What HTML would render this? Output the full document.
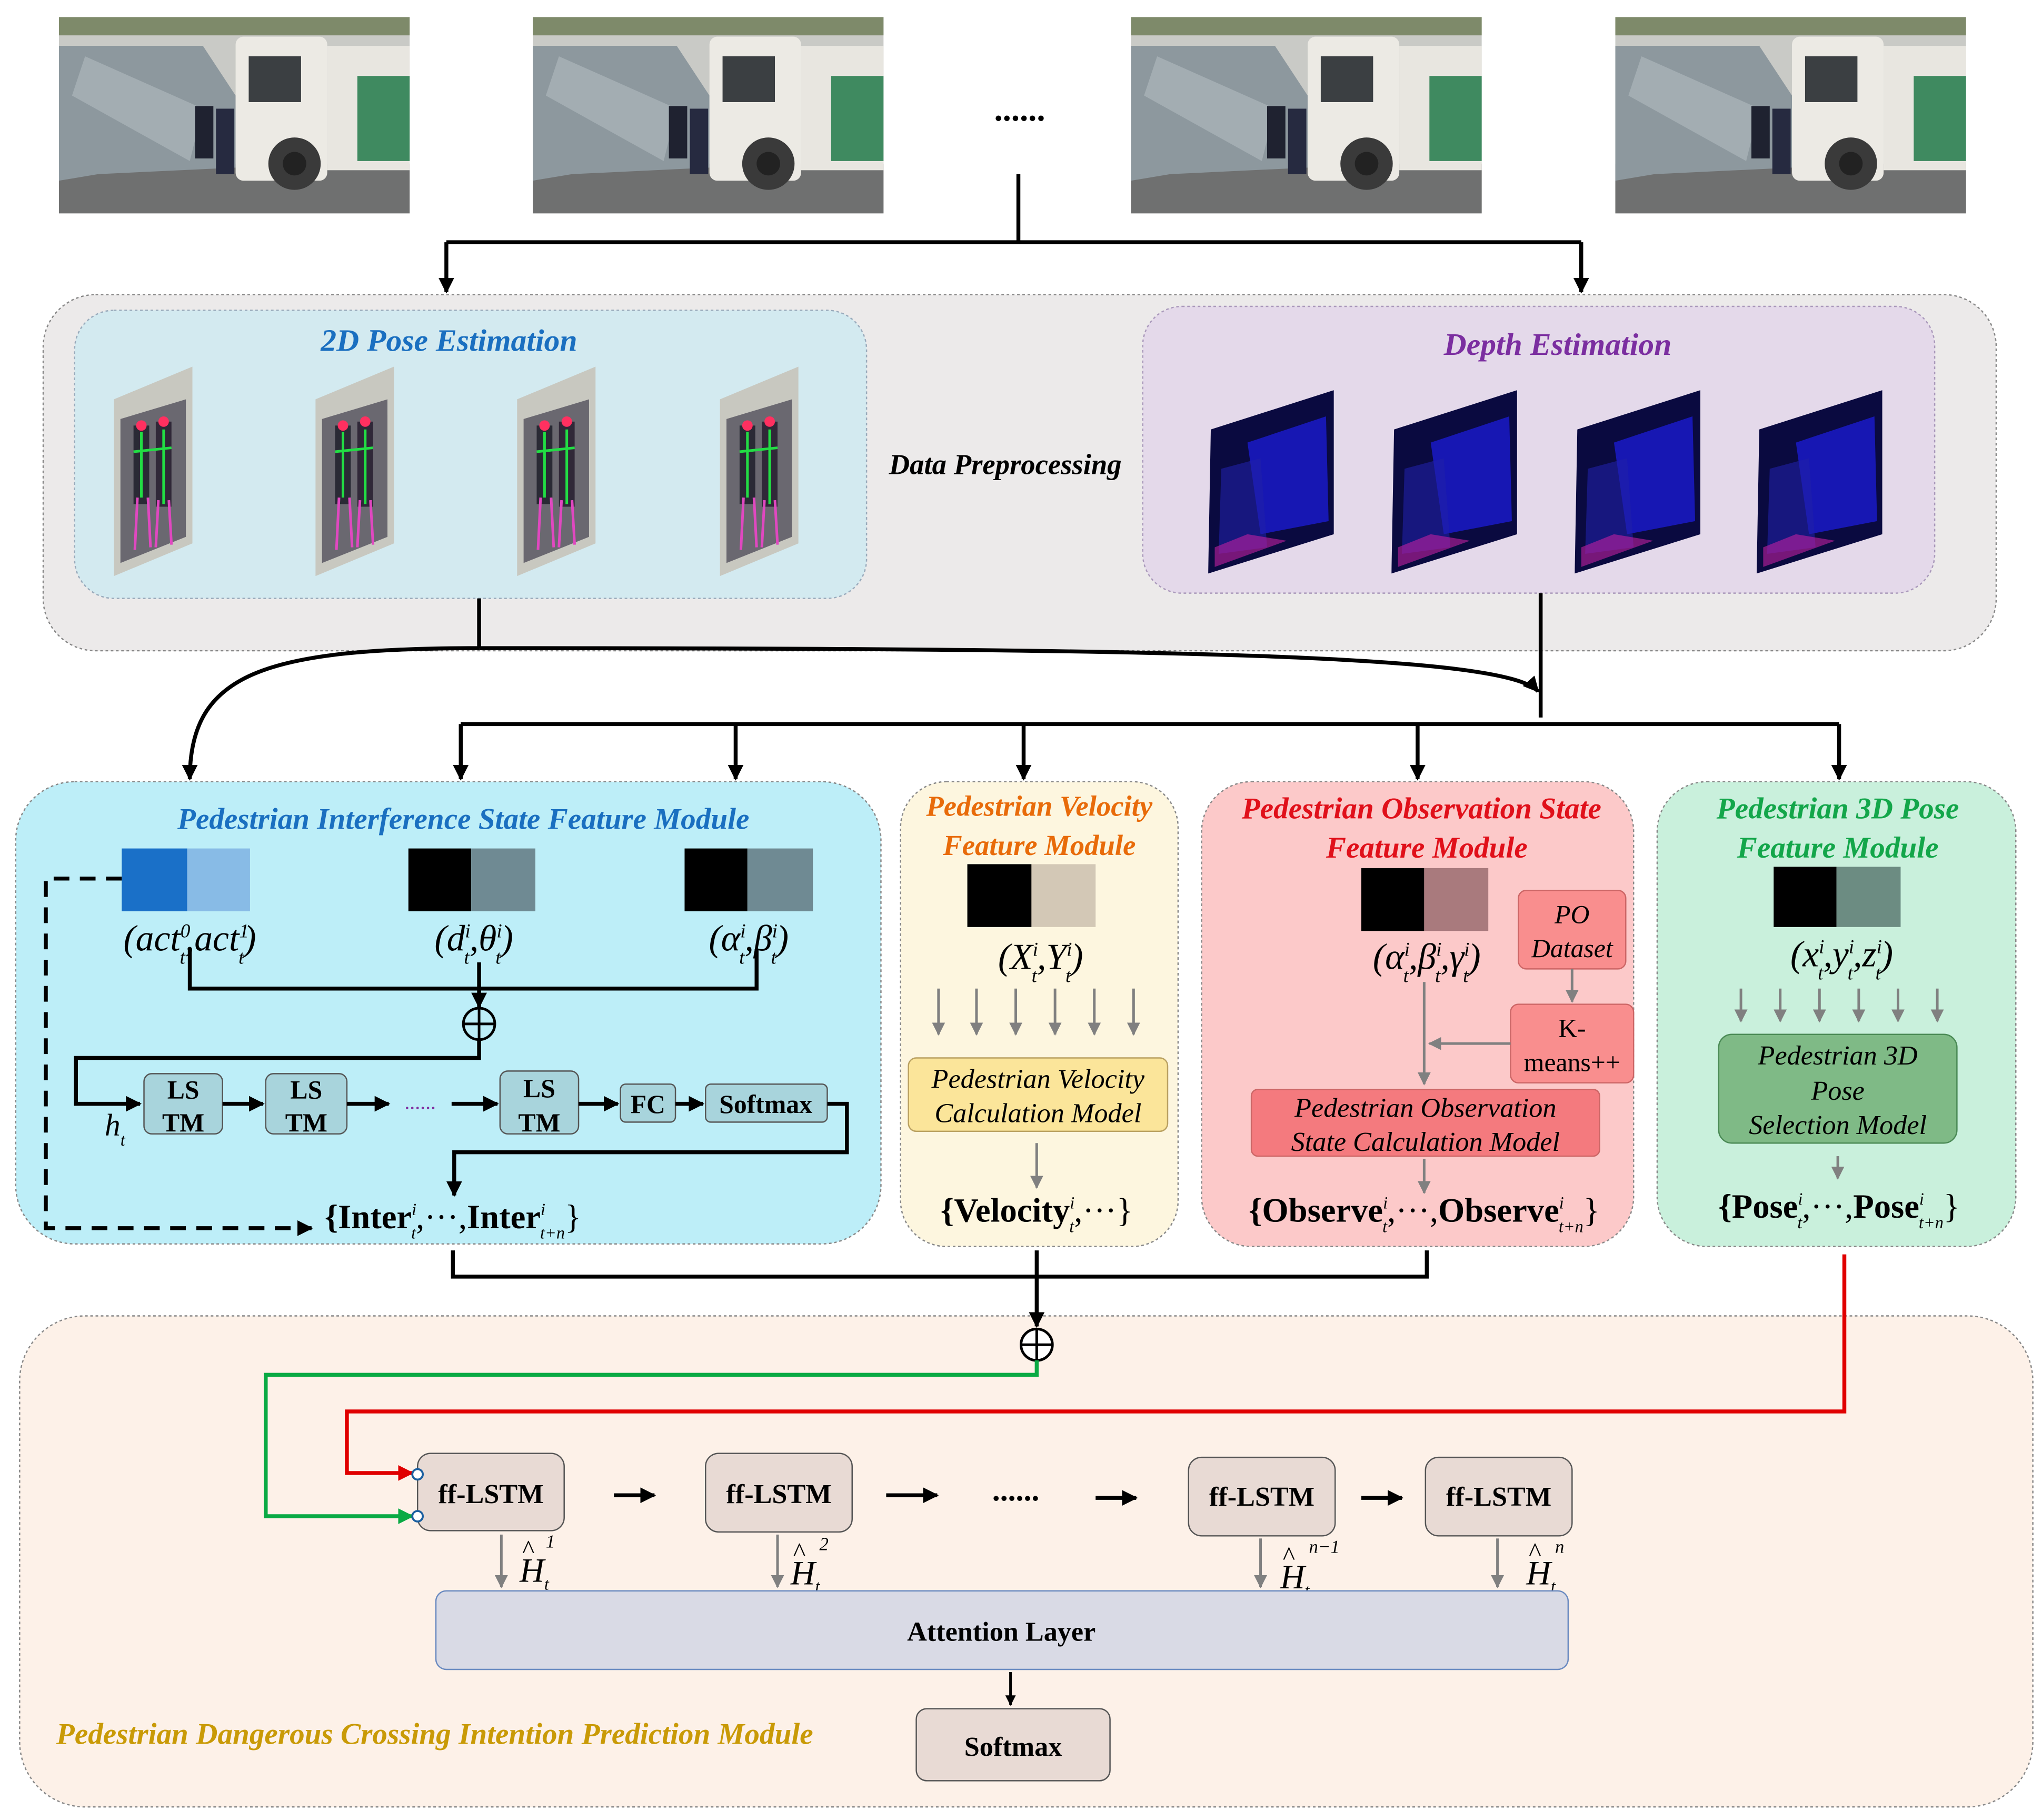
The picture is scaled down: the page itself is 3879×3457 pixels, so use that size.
<!DOCTYPE html>
<html><head><meta charset="utf-8"><style>
html,body{margin:0;padding:0;background:#fff;}
svg{display:block;}
text{font-family:"Liberation Serif",serif;}
.t{font-weight:bold;font-style:italic;}
.m{font-style:italic;}
</style></head><body>
<svg width="3879" height="3457" viewBox="0 0 1560 1390" preserveAspectRatio="none" xmlns="http://www.w3.org/2000/svg">
<defs>
<marker id="a" viewBox="0 0 10 10" refX="9" refY="5" markerWidth="4" markerHeight="4" orient="auto"><path d="M0,0L10,5L0,10z" fill="#000"/></marker>
<marker id="ag" viewBox="0 0 10 10" refX="9" refY="5" markerWidth="5" markerHeight="5" orient="auto"><path d="M0,0L10,5L0,10z" fill="#808080"/></marker>
<marker id="agr" viewBox="0 0 10 10" refX="9" refY="5" markerWidth="4" markerHeight="4" orient="auto"><path d="M0,0L10,5L0,10z" fill="#0aaa44"/></marker>
<marker id="ar" viewBox="0 0 10 10" refX="9" refY="5" markerWidth="4" markerHeight="4" orient="auto"><path d="M0,0L10,5L0,10z" fill="#e00000"/></marker>
<symbol id="ph" viewBox="0 0 268 150">
<rect width="268" height="150" fill="#c9cac6"/>
<rect x="0" y="0" width="268" height="14" fill="#7e8a6a"/>
<rect x="0" y="112" width="268" height="38" fill="#6f7070"/>
<path d="M0,22L110,22L135,60L135,115L30,120L0,125z" fill="#8d989e"/>
<path d="M20,30L110,70L100,110L10,60z" fill="#a3adb2"/>
<rect x="135" y="15" width="70" height="110" rx="6" fill="#eceae4"/>
<rect x="145" y="30" width="40" height="35" fill="#3b3f42"/>
<rect x="205" y="22" width="63" height="95" fill="#e8e6e0"/>
<rect x="228" y="45" width="40" height="65" fill="#3f8a60"/>
<circle cx="180" cy="112" r="20" fill="#3a3a3a"/>
<circle cx="180" cy="112" r="9" fill="#222"/>
<rect x="104" y="68" width="14" height="40" fill="#1f2230"/>
<rect x="120" y="70" width="14" height="50" fill="#262a40"/>
</symbol>
<symbol id="pose" viewBox="0 0 60 160">
<path d="M0,25L60,0L60,135L0,160z" fill="#c8c8c0"/>
<path d="M5,40L55,25L55,130L5,150z" fill="#6a6870"/>
<rect x="15" y="45" width="12" height="60" fill="#2a2a35"/>
<rect x="32" y="42" width="12" height="65" fill="#302838"/>
<path d="M21,50L21,100M38,48L38,105M15,65L44,62" stroke="#22dd44" stroke-width="2"/>
<path d="M18,100L16,140M26,100L28,138M34,102L32,138M42,102L44,136" stroke="#e048c0" stroke-width="2"/>
<circle cx="21" cy="45" r="4" fill="#ff3060"/><circle cx="38" cy="42" r="4" fill="#ff3060"/>
</symbol>
<symbol id="dep" viewBox="0 0 96 140">
<path d="M2,30L96,0L96,110L0,140z" fill="#0a0a40"/>
<path d="M30,40L90,20L92,100L40,110z" fill="#1a1ad0" opacity="0.8"/>
<path d="M10,60L40,52L45,120L8,125z" fill="#2020a8" opacity="0.6"/>
<path d="M5,120L30,110L60,115L5,135z" fill="#c020a0" opacity="0.6"/>
</symbol>
</defs>

<use href="#ph" x="45" y="13" width="268" height="150"/>
<use href="#ph" x="407" y="13" width="268" height="150"/>
<use href="#ph" x="864" y="13" width="268" height="150"/>
<use href="#ph" x="1234" y="13" width="268" height="150"/>
<text x="779" y="92" font-size="26" text-anchor="middle" font-weight="bold">......</text>
<path d="M778,133V185M341,185H1208" stroke="#000" stroke-width="3" fill="none"/>
<path d="M341,185V223" stroke="#000" stroke-width="3" marker-end="url(#a)"/>
<path d="M1208,185V223" stroke="#000" stroke-width="3" marker-end="url(#a)"/>

<rect x="33" y="225" width="1492" height="272" rx="40" fill="#eceaea" stroke="#888" stroke-dasharray="2 2"/>
<rect x="57" y="237" width="605" height="220" rx="30" fill="#d3eaf0" stroke="#9ab" stroke-dasharray="2 2"/>
<text x="343" y="268" font-size="24" class="t" fill="#1a6fc0" text-anchor="middle">2D Pose Estimation</text>
<use href="#pose" x="87" y="280" width="60" height="160"/>
<use href="#pose" x="241" y="280" width="60" height="160"/>
<use href="#pose" x="395" y="280" width="60" height="160"/>
<use href="#pose" x="550" y="280" width="60" height="160"/>
<text x="768" y="362" font-size="22" class="t" text-anchor="middle">Data Preprocessing</text>
<rect x="873" y="234" width="605" height="219" rx="30" fill="#e4d9ea" stroke="#a9b" stroke-dasharray="2 2"/>
<text x="1190" y="271" font-size="24" class="t" fill="#7b2ea0" text-anchor="middle">Depth Estimation</text>
<use href="#dep" x="923" y="298" width="96" height="140"/>
<use href="#dep" x="1063" y="298" width="96" height="140"/>
<use href="#dep" x="1203" y="298" width="96" height="140"/>
<use href="#dep" x="1342" y="298" width="96" height="140"/>

<path d="M366,457V495" stroke="#000" stroke-width="3" fill="none"/>
<path d="M366,495C200,495 145,515 145,595" stroke="#000" stroke-width="3" fill="none" marker-end="url(#a)"/>
<path d="M366,495C900,495 1150,500 1175,528" stroke="#000" stroke-width="3" fill="none" marker-end="url(#a)"/>
<path d="M1177,453V548M352,553H1405" stroke="#000" stroke-width="3" fill="none"/>
<g stroke="#000" stroke-width="3" marker-end="url(#a)">
<path d="M352,553V595"/><path d="M562,553V595"/><path d="M782,553V595"/><path d="M1083,553V595"/><path d="M1405,553V595"/></g>

<rect x="12" y="597" width="661" height="353" rx="45" fill="#bdeef8" stroke="#888" stroke-dasharray="2 2"/>
<text x="354" y="633" font-size="23" class="t" fill="#1a6fc0" text-anchor="middle">Pedestrian Interference State Feature Module</text>
<rect x="93" y="648" width="50" height="48" fill="#1a70c8"/><rect x="143" y="648" width="48" height="48" fill="#88bbe6"/>
<rect x="312" y="648" width="48" height="48" fill="#000"/><rect x="360" y="648" width="49" height="48" fill="#6f8a93"/>
<rect x="523" y="648" width="48" height="48" fill="#000"/><rect x="571" y="648" width="50" height="48" fill="#6f8a93"/>
<text x="145" y="726" font-size="28" class="m" text-anchor="middle">(act<tspan font-size="15" dy="-10">0</tspan><tspan font-size="15" dx="-8" dy="20">t</tspan><tspan dy="-10">,act</tspan><tspan font-size="15" dy="-10">1</tspan><tspan font-size="15" dx="-8" dy="20">t</tspan><tspan dy="-10">)</tspan></text>
<text x="362" y="726" font-size="28" class="m" text-anchor="middle">(d<tspan font-size="15" dy="-10">i</tspan><tspan font-size="15" dx="-5" dy="20">t</tspan><tspan dy="-10">,θ</tspan><tspan font-size="15" dy="-10">i</tspan><tspan font-size="15" dx="-5" dy="20">t</tspan><tspan dy="-10">)</tspan></text>
<text x="572" y="726" font-size="28" class="m" text-anchor="middle">(α<tspan font-size="15" dy="-10">i</tspan><tspan font-size="15" dx="-5" dy="20">t</tspan><tspan dy="-10">,β</tspan><tspan font-size="15" dy="-10">i</tspan><tspan font-size="15" dx="-5" dy="20">t</tspan><tspan dy="-10">)</tspan></text>
<path d="M145,725V755H578V725" stroke="#000" stroke-width="3" fill="none"/>
<path d="M366,735V769" stroke="#000" stroke-width="3" marker-end="url(#a)"/>
<circle cx="366" cy="782" r="12" fill="none" stroke="#000" stroke-width="2"/><path d="M354,782H378M366,770V794" stroke="#000" stroke-width="2"/>
<path d="M366,794V808H58V843H107" stroke="#000" stroke-width="3" fill="none" marker-end="url(#a)"/>
<text x="80" y="867" font-size="24" class="m">h<tspan font-size="13" dy="8">t</tspan></text>
<g fill="#a8d4dc" stroke="#555" stroke-width="1">
<rect x="110" y="820" width="60" height="46" rx="6"/><rect x="203" y="820" width="62" height="46" rx="6"/><rect x="382" y="818" width="60" height="48" rx="6"/>
<rect x="474" y="828" width="42" height="29" rx="4"/><rect x="539" y="828" width="93" height="29" rx="4"/></g>
<g font-size="20" font-weight="bold" text-anchor="middle">
<text x="140" y="839">LS</text><text x="140" y="864">TM</text>
<text x="234" y="839">LS</text><text x="234" y="864">TM</text>
<text x="412" y="838">LS</text><text x="412" y="864">TM</text>
<text x="495" y="850">FC</text><text x="585" y="850">Softmax</text></g>
<g stroke="#000" stroke-width="3" marker-end="url(#a)"><path d="M170,843H201"/><path d="M265,843H297"/><path d="M345,843H380"/><path d="M442,843H472"/><path d="M516,843H537"/></g>
<text x="321" y="847" font-size="16" fill="#8030a0" text-anchor="middle">......</text>
<path d="M632,843H647V880H347V913" stroke="#000" stroke-width="3" fill="none" marker-end="url(#a)"/>
<path d="M93,671H35V938H238" stroke="#000" stroke-width="3" fill="none" stroke-dasharray="12 8" marker-end="url(#a)"/>
<text x="346" y="938" font-size="26" font-weight="bold" text-anchor="middle">{Inter<tspan font-size="13" font-weight="normal" class="m" dy="-10">i</tspan><tspan font-size="13" font-weight="normal" class="m" dx="-4" dy="18">t</tspan><tspan dy="-8" font-weight="normal">,···,</tspan>Inter<tspan font-size="13" font-weight="normal" class="m" dy="-10">i</tspan><tspan font-size="13" font-weight="normal" class="m" dx="-4" dy="18">t+n</tspan><tspan dy="-8" font-weight="normal">}</tspan></text>

<rect x="688" y="597" width="212" height="355" rx="35" fill="#fdf6df" stroke="#888" stroke-dasharray="2 2"/>
<text x="794" y="623" font-size="22" class="t" fill="#e86b0a" text-anchor="middle">Pedestrian Velocity</text>
<text x="794" y="653" font-size="22" class="t" fill="#e86b0a" text-anchor="middle">Feature Module</text>
<rect x="739" y="660" width="49" height="48" fill="#000"/><rect x="788" y="660" width="49" height="48" fill="#d3c8b6"/>
<text x="795" y="740" font-size="28" class="m" text-anchor="middle">(X<tspan font-size="15" dy="-10">i</tspan><tspan font-size="15" dx="-5" dy="20">t</tspan><tspan dy="-10">,Y</tspan><tspan font-size="15" dy="-10">i</tspan><tspan font-size="15" dx="-5" dy="20">t</tspan><tspan dy="-10">)</tspan></text>
<g stroke="#808080" stroke-width="2" marker-end="url(#ag)"><path d="M717,755V790"/><path d="M746,755V790"/><path d="M776,755V790"/><path d="M806,755V790"/><path d="M836,755V790"/><path d="M866,755V790"/></g>
<rect x="694" y="808" width="198" height="56" rx="6" fill="#fbe59a" stroke="#b9a060"/>
<text x="793" y="831" font-size="21" class="m" text-anchor="middle">Pedestrian Velocity</text>
<text x="793" y="857" font-size="21" class="m" text-anchor="middle">Calculation Model</text>
<path d="M792,873V907" stroke="#808080" stroke-width="2" marker-end="url(#ag)"/>
<text x="792" y="933" font-size="26" font-weight="bold" text-anchor="middle">{Velocity<tspan font-size="13" font-weight="normal" class="m" dy="-10">i</tspan><tspan font-size="13" font-weight="normal" class="m" dx="-4" dy="18">t</tspan><tspan dy="-8" font-weight="normal">,···}</tspan></text>

<rect x="918" y="597" width="330" height="355" rx="38" fill="#fcc9c9" stroke="#888" stroke-dasharray="2 2"/>
<text x="1086" y="625" font-size="23" class="t" fill="#e0101a" text-anchor="middle">Pedestrian Observation State</text>
<text x="1090" y="655" font-size="23" class="t" fill="#e0101a" text-anchor="middle">Feature Module</text>
<rect x="1040" y="663" width="48" height="48" fill="#000"/><rect x="1088" y="663" width="49" height="48" fill="#a97a7d"/>
<text x="1090" y="740" font-size="28" class="m" text-anchor="middle">(α<tspan font-size="15" dy="-10">i</tspan><tspan font-size="15" dx="-5" dy="20">t</tspan><tspan dy="-10">,β</tspan><tspan font-size="15" dy="-10">i</tspan><tspan font-size="15" dx="-5" dy="20">t</tspan><tspan dy="-10">,γ</tspan><tspan font-size="15" dy="-10">i</tspan><tspan font-size="15" dx="-5" dy="20">t</tspan><tspan dy="-10">)</tspan></text>
<rect x="1160" y="680" width="82" height="60" rx="6" fill="#f98e8e" stroke="#c66"/>
<text x="1201" y="705" font-size="20" class="m" text-anchor="middle">PO</text><text x="1201" y="731" font-size="20" class="m" text-anchor="middle">Dataset</text>
<path d="M1201,740V765" stroke="#808080" stroke-width="2" marker-end="url(#ag)"/>
<rect x="1154" y="767" width="94" height="60" rx="6" fill="#f98e8e" stroke="#c66"/>
<text x="1201" y="792" font-size="20" text-anchor="middle">K-</text><text x="1201" y="818" font-size="20" text-anchor="middle">means++</text>
<path d="M1154,797H1092" stroke="#808080" stroke-width="2" marker-end="url(#ag)"/>
<path d="M1088,750V828" stroke="#808080" stroke-width="2" marker-end="url(#ag)"/>
<rect x="956" y="832" width="266" height="51" rx="5" fill="#f47a7e" stroke="#c66"/>
<text x="1089" y="853" font-size="21" class="m" text-anchor="middle">Pedestrian Observation</text>
<text x="1089" y="879" font-size="21" class="m" text-anchor="middle">State Calculation Model</text>
<path d="M1088,885V911" stroke="#808080" stroke-width="2" marker-end="url(#ag)"/>
<text x="1088" y="933" font-size="26" font-weight="bold" text-anchor="middle">{Observe<tspan font-size="13" font-weight="normal" class="m" dy="-10">i</tspan><tspan font-size="13" font-weight="normal" class="m" dx="-4" dy="18">t</tspan><tspan dy="-8" font-weight="normal">,···,</tspan>Observe<tspan font-size="13" font-weight="normal" class="m" dy="-10">i</tspan><tspan font-size="13" font-weight="normal" class="m" dx="-4" dy="18">t+n</tspan><tspan dy="-8" font-weight="normal">}</tspan></text>

<rect x="1266" y="597" width="274" height="355" rx="38" fill="#c9f0dc" stroke="#888" stroke-dasharray="2 2"/>
<text x="1404" y="625" font-size="23" class="t" fill="#13a64a" text-anchor="middle">Pedestrian 3D Pose</text>
<text x="1404" y="655" font-size="23" class="t" fill="#13a64a" text-anchor="middle">Feature Module</text>
<rect x="1355" y="662" width="48" height="46" fill="#000"/><rect x="1403" y="662" width="49" height="46" fill="#6c8c82"/>
<text x="1407" y="738" font-size="28" class="m" text-anchor="middle">(x<tspan font-size="15" dy="-10">i</tspan><tspan font-size="15" dx="-5" dy="20">t</tspan><tspan dy="-10">,y</tspan><tspan font-size="15" dy="-10">i</tspan><tspan font-size="15" dx="-5" dy="20">t</tspan><tspan dy="-10">,z</tspan><tspan font-size="15" dy="-10">i</tspan><tspan font-size="15" dx="-5" dy="20">t</tspan><tspan dy="-10">)</tspan></text>
<g stroke="#808080" stroke-width="2" marker-end="url(#ag)"><path d="M1330,755V780"/><path d="M1360,755V780"/><path d="M1390,755V780"/><path d="M1420,755V780"/><path d="M1450,755V780"/><path d="M1480,755V780"/></g>
<rect x="1313" y="790" width="182" height="83" rx="10" fill="#7fba86" stroke="#4a8a55"/>
<text x="1404" y="813" font-size="21" class="m" text-anchor="middle">Pedestrian 3D</text>
<text x="1404" y="840" font-size="21" class="m" text-anchor="middle">Pose</text>
<text x="1404" y="866" font-size="21" class="m" text-anchor="middle">Selection Model</text>
<path d="M1404,883V900" stroke="#808080" stroke-width="2" marker-end="url(#ag)"/>
<text x="1405" y="930" font-size="26" font-weight="bold" text-anchor="middle">{Pose<tspan font-size="13" font-weight="normal" class="m" dy="-10">i</tspan><tspan font-size="13" font-weight="normal" class="m" dx="-4" dy="18">t</tspan><tspan dy="-8" font-weight="normal">,···,</tspan>Pose<tspan font-size="13" font-weight="normal" class="m" dy="-10">i</tspan><tspan font-size="13" font-weight="normal" class="m" dx="-4" dy="18">t+n</tspan><tspan dy="-8" font-weight="normal">}</tspan></text>

<rect x="15" y="1005" width="1538" height="375" rx="50" fill="#fdf1e8" stroke="#888" stroke-dasharray="2 2"/>
<path d="M346,955V975H1090V955" stroke="#000" stroke-width="3" fill="none"/>
<path d="M792,955V1013" stroke="#000" stroke-width="3" marker-end="url(#a)"/>
<circle cx="792" cy="1027" r="12" fill="#fff" stroke="#000" stroke-width="2"/><path d="M780,1027H804M792,1015V1039" stroke="#000" stroke-width="2"/>
<path d="M792,1039V1050H203V1158H315" stroke="#0aaa44" stroke-width="3" fill="none" marker-end="url(#agr)"/>
<path d="M1409,958V1078H265V1125H315" stroke="#e00000" stroke-width="3" fill="none" marker-end="url(#ar)"/>
<g fill="#e8dad4" stroke="#555" stroke-width="1">
<rect x="319" y="1110" width="112" height="59" rx="10"/><rect x="539" y="1110" width="112" height="60" rx="10"/>
<rect x="908" y="1113" width="112" height="60" rx="10"/><rect x="1089" y="1113" width="112" height="60" rx="10"/></g>
<circle cx="319" cy="1126" r="4" fill="#fff" stroke="#1a5fa0" stroke-width="1.5"/>
<circle cx="319" cy="1158" r="4" fill="#fff" stroke="#1a5fa0" stroke-width="1.5"/>
<g font-size="21" font-weight="bold" text-anchor="middle">
<text x="375" y="1148">ff-LSTM</text><text x="595" y="1148">ff-LSTM</text><text x="964" y="1150">ff-LSTM</text><text x="1145" y="1150">ff-LSTM</text></g>
<g stroke="#000" stroke-width="3" marker-end="url(#a)"><path d="M469,1142H500"/><path d="M677,1142H716"/><path d="M837,1144H868"/><path d="M1040,1144H1071"/></g>
<text x="776" y="1146" font-size="24" font-weight="bold" text-anchor="middle">......</text>
<g stroke="#808080" stroke-width="2" marker-end="url(#ag)"><path d="M383,1172V1212"/><path d="M594,1172V1212"/><path d="M963,1175V1212"/><path d="M1144,1175V1212"/></g>
<g font-size="26" class="m">
<text x="397" y="1208">H<tspan font-size="13" dy="6">t</tspan></text><text x="399" y="1190" font-size="20" font-style="normal">^</text><text x="417" y="1182" font-size="14">1</text>
<text x="604" y="1210">H<tspan font-size="13" dy="6">t</tspan></text><text x="606" y="1192" font-size="20" font-style="normal">^</text><text x="626" y="1184" font-size="14">2</text>
<text x="978" y="1213">H<tspan font-size="13" dy="6">t</tspan></text><text x="980" y="1195" font-size="20" font-style="normal">^</text><text x="1000" y="1186" font-size="14">n−1</text>
<text x="1166" y="1210">H<tspan font-size="13" dy="6">t</tspan></text><text x="1168" y="1192" font-size="20" font-style="normal">^</text><text x="1188" y="1186" font-size="14">n</text></g>
<rect x="333" y="1215" width="865" height="60" rx="8" fill="#d9dae5" stroke="#6a8ac0"/>
<text x="765" y="1253" font-size="21" font-weight="bold" text-anchor="middle">Attention Layer</text>
<path d="M772,1277V1302" stroke="#000" stroke-width="2" marker-end="url(#a)"/>
<rect x="700" y="1305" width="148" height="55" rx="8" fill="#e8dad4" stroke="#555"/>
<text x="774" y="1341" font-size="21" font-weight="bold" text-anchor="middle">Softmax</text>
<text x="43" y="1332" font-size="23" class="t" fill="#c99a06">Pedestrian Dangerous Crossing Intention Prediction Module</text>
</svg>
</body></html>
